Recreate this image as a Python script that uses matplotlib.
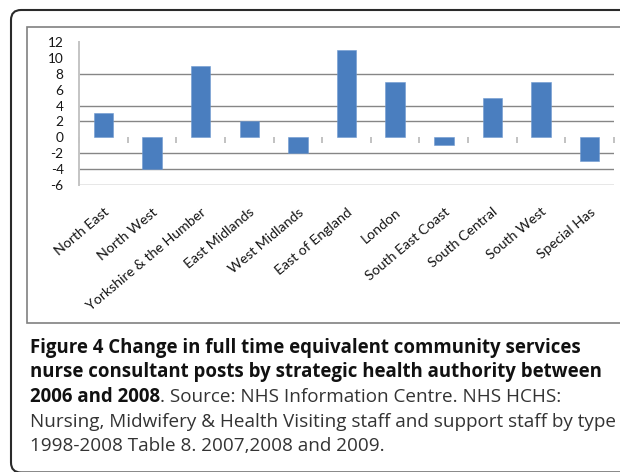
import matplotlib
matplotlib.use("Agg")
import matplotlib.pyplot as plt
from matplotlib.patches import PathPatch, Rectangle
from matplotlib.path import Path
import numpy as np

categories = ["North East", "North West", "Yorkshire & the Humber", "East Midlands",
              "West Midlands", "East of England", "London", "South East Coast",
              "South Central", "South West", "Special Has"]
values = [3, -4, 9, 2, -2, 11, 7, -1, 5, 7, -3]
y_ticks = [-6, -4, -2, 0, 2, 4, 6, 8, 10, 12]
grid_values = [-6, -4, -2, 2, 4, 8]

caption_lines = [
    [("Figure 4 Change in full time equivalent community services", "bold")],
    [("nurse consultant posts by strategic health authority between", "bold")],
    [("2006 and 2008", "bold"), (". Source: NHS Information Centre. NHS HCHS:", "normal")],
    [("Nursing, Midwifery & Health Visiting staff and support staff by type", "normal")],
    [("1998-2008 Table 8. 2007,2008 and 2009.", "normal")],
]

W, H = 621, 472
fig = plt.figure(figsize=(W / 100, H / 100), dpi=100)
fig.patch.set_facecolor("white")
fig.patch.set_linewidth(0)


def px(x, y):
    return (x / 100, (H - y) / 100)


clip_rect = Rectangle((0, 0), (W - 1) / 100, H / 100, transform=fig.dpi_scale_trans)

# outer rounded frame: left, top and bottom edges (right edge is off-canvas)
r = 10
xl, yt, yb, xr = 11, 10, 472.5, W + 40
outer_verts = [px(xr, yt), px(xl + r, yt), px(xl, yt), px(xl, yt + r),
               px(xl, yb - r), px(xl, yb), px(xl + r, yb), px(xr, yb)]
outer_codes = [Path.MOVETO, Path.LINETO, Path.CURVE3, Path.CURVE3,
               Path.LINETO, Path.CURVE3, Path.CURVE3, Path.LINETO]
outer = PathPatch(Path(outer_verts, outer_codes), transform=fig.dpi_scale_trans,
                  fill=False, edgecolor="#2a2a2a", linewidth=1.5)
fig.add_artist(outer)
outer.set_clip_path(clip_rect)

# inner chart frame
il, it, ib = 27, 27, 322.5
inner_verts = [px(xr, it), px(il, it), px(il, ib), px(xr, ib)]
inner_codes = [Path.MOVETO, Path.LINETO, Path.LINETO, Path.LINETO]
inner = PathPatch(Path(inner_verts, inner_codes), transform=fig.dpi_scale_trans,
                  fill=False, edgecolor="#808080", linewidth=1.2)
fig.add_artist(inner)
inner.set_clip_path(clip_rect)

# plot area
left, right, top, bottom = 79, 614, 42, 185
ax = fig.add_axes([left / W, 1 - bottom / H, (right - left) / W, (bottom - top) / H])
x = np.arange(len(categories))
ax.bar(x, values, width=0.4, color="#4a7ebf", edgecolor="#6f9ad0", linewidth=0.4, zorder=3)
ax.set_xlim(-0.5, len(categories) - 0.5)
ax.set_ylim(min(y_ticks), max(y_ticks))

for g in grid_values:
    ax.axhline(g, color="#868686", linewidth=1.0, zorder=1)

for s in ["top", "right", "bottom"]:
    ax.spines[s].set_visible(False)
ax.spines["left"].set_color("#c4c4c4")
ax.spines["left"].set_linewidth(1.4)

chart_font = ["Lato", "DejaVu Sans"]
ax.set_yticks(y_ticks)
ax.set_yticklabels([str(v) for v in y_ticks], fontsize=9.8, color="#151515", family=chart_font)
ax.tick_params(axis="y", length=0, pad=11)

ax.set_xticks(x)
ax.set_xticklabels(categories, rotation=40, ha="right", rotation_mode="anchor",
                   fontsize=10.2, color="#151515", family=chart_font)
ax.tick_params(axis="x", length=0, pad=15)

# category boundary tick marks on the zero line
ymin, ymax = min(y_ticks), max(y_ticks)
sec = ax.secondary_xaxis((0 - ymin) / (ymax - ymin))
sec.set_xticks(np.arange(-0.5, len(categories), 1.0))
sec.set_xticklabels([])
sec.tick_params(length=4, width=1.2, color="#b8b8b8", direction="out")
for s in sec.spines.values():
    s.set_visible(False)

# caption
fig.canvas.draw()
renderer = fig.canvas.get_renderer()
sizes = {"bold": 13.4, "normal": 13.6}
baselines = [353, 377, 402, 427, 451]
for line, ybase in zip(caption_lines, baselines):
    xpos = 30
    for txt, weight in line:
        t = fig.text(xpos / W, 1 - ybase / H, txt, fontsize=sizes[weight], fontweight=weight,
                     family="Open Sans", color="#111111" if weight == "bold" else "#333333",
                     va="baseline", ha="left")
        bb = t.get_window_extent(renderer)
        xpos = bb.x1

fig.savefig("out.png", dpi=100, facecolor="white")
